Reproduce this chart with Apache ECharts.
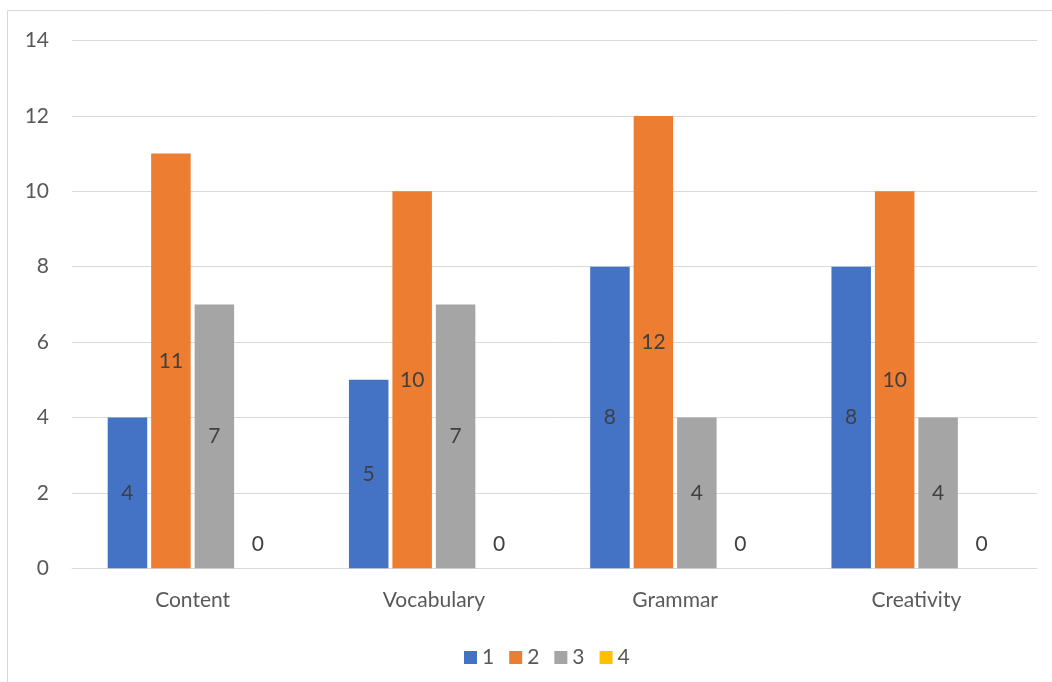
<!DOCTYPE html>
<html>
<head>
<meta charset="utf-8">
<script src="https://cdn.jsdelivr.net/npm/echarts@6/dist/echarts.min.js"></script>
<style>
  html, body { margin: 0; padding: 0; background: #ffffff; }
  #chart { width: 1052px; height: 682px; }
</style>
</head>
<body>
<div id="chart"></div>
<script>
// Rubric criteria and the number of ratings at each score level
const categories = ['Content', 'Vocabulary', 'Grammar', 'Creativity'];
const seriesNames = ['1', '2', '3', '4'];
const score1 = [4, 5, 8, 8];
const score2 = [11, 10, 12, 10];
const score3 = [7, 7, 4, 4];
const score4 = [0, 0, 0, 0];
const colors = ['#4472C4', '#ED7D31', '#A5A5A5', '#FFC000'];

const FONT = 'Lato, "Noto Sans", sans-serif';
const FONT_SIZE = 21;
const values = [score1, score2, score3, score4];

const chart = echarts.init(document.getElementById('chart'), null, { renderer: 'canvas' });

const series = values.map((data, i) => {
  const allZero = data.every(v => v === 0);
  return {
    name: seriesNames[i],
    type: 'bar',
    data: data,
    barWidth: 39.5,
    barGap: '10%',
    itemStyle: { color: colors[i] },
    label: {
      show: true,
      position: allZero ? 'top' : 'inside',
      distance: allZero ? 14 : 5,
      color: '#404040',
      fontFamily: FONT,
      fontSize: FONT_SIZE,
      formatter: p => String(p.value)
    },
    emphasis: { disabled: true }
  };
});

chart.setOption({
  animation: false,
  backgroundColor: '#ffffff',
  color: colors,
  graphic: [{
    type: 'rect',
    shape: { x: 7.5, y: 10.5, width: 1200, height: 800 },
    style: { fill: 'none', stroke: '#D9D9D9', lineWidth: 1 },
    silent: true
  }],
  grid: { left: 72, right: 15, top: 40.5, bottom: 113.7 },
  legend: {
    data: seriesNames,
    left: 459,
    top: 642,
    icon: 'rect',
    itemWidth: 13,
    itemHeight: 13,
    itemGap: 15,
    textStyle: { color: '#595959', fontFamily: FONT, fontSize: FONT_SIZE }
  },
  xAxis: {
    type: 'category',
    data: categories,
    axisLine: { lineStyle: { color: '#D9D9D9', width: 1 } },
    axisTick: { show: false },
    axisLabel: { color: '#595959', fontFamily: FONT, fontSize: FONT_SIZE, margin: 21 }
  },
  yAxis: {
    type: 'value',
    min: 0,
    max: 14,
    interval: 2,
    axisLine: { show: false },
    axisTick: { show: false },
    splitLine: { lineStyle: { color: '#D9D9D9', width: 1 } },
    axisLabel: { color: '#595959', fontFamily: FONT, fontSize: FONT_SIZE, margin: 23 }
  },
  series: series
});
</script>
</body>
</html>
